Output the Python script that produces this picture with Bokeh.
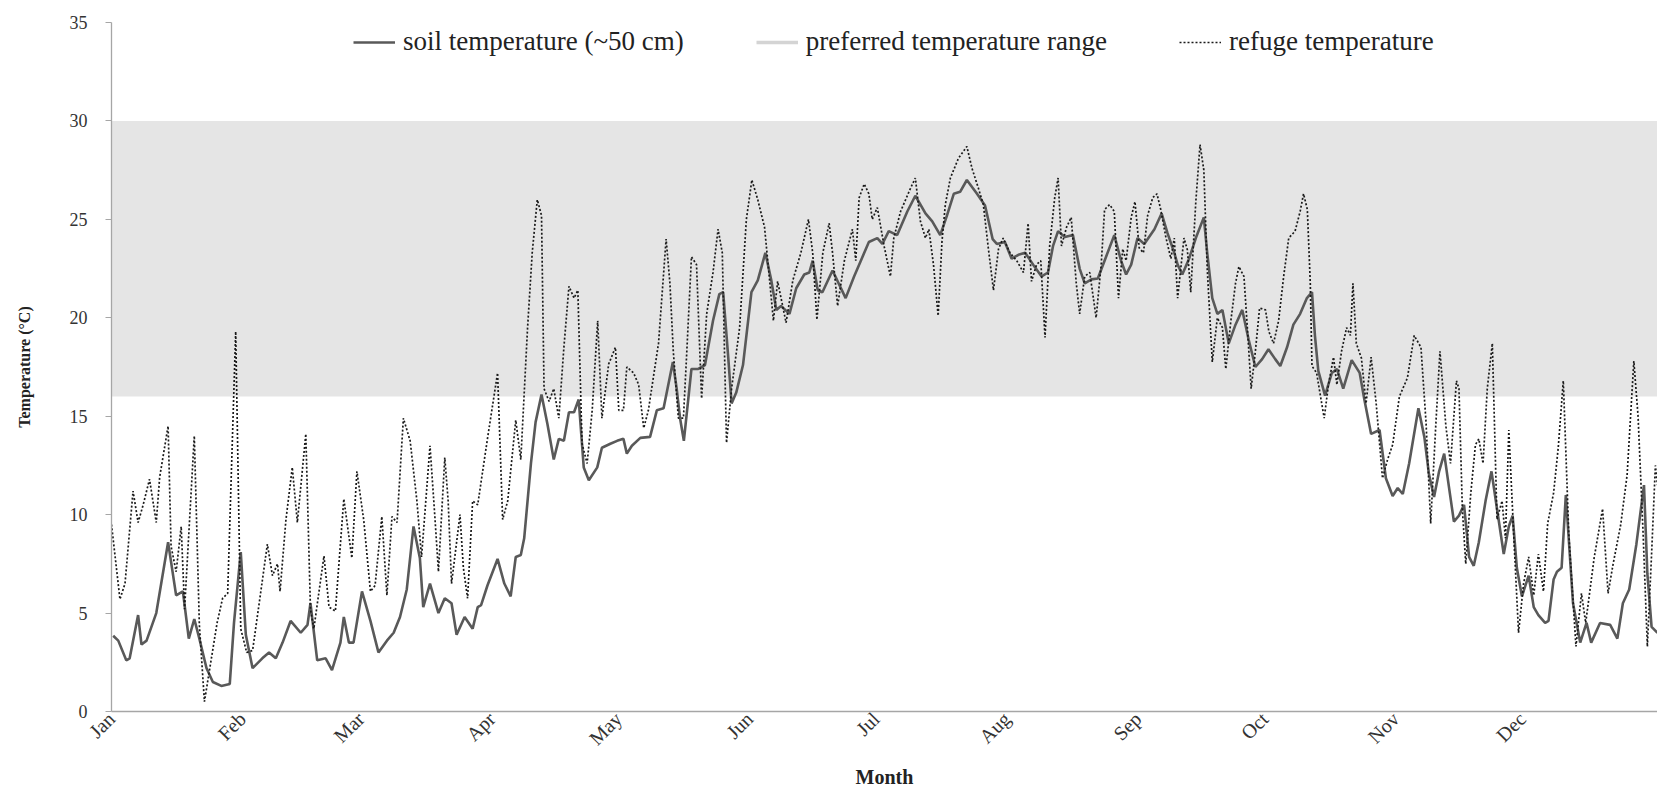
import math
from bokeh.plotting import figure
from bokeh.models import Range1d, FixedTicker, Legend, LegendItem
from bokeh.embed import file_html
from bokeh.resources import INLINE

# ---------------- data ----------------
month_names = ["Jan", "Feb", "Mar", "Apr", "May", "Jun", "Jul", "Aug", "Sep", "Oct", "Nov", "Dec"]
month_start_day = [0, 31, 59, 90, 120, 151, 181, 212, 243, 273, 304, 334]

preferred_low = 16
preferred_high = 30
band_days = [0, 368]

soil_day = [0.4, 1.6, 3.5, 4.3, 6.3, 7.1, 8.3, 10.6, 13.4, 15.3, 16.9, 18.3, 19.6, 20.8, 22.5, 24.0, 26.0, 28.0,
            29.0, 30.6, 31.8, 33.4, 35.7, 37.3, 38.9, 40.5, 42.4, 44.8, 46.4, 47.1, 48.7, 50.7, 52.2, 54.2, 55.0,
            56.2, 57.3, 59.3, 61.3, 63.2, 65.2, 66.8, 68.3, 69.9, 71.5, 73.0, 73.8, 75.4, 77.4, 78.9, 80.5, 81.7,
            83.6, 85.5, 86.7, 87.5, 89.0, 91.4, 93.0, 94.5, 95.7, 96.9, 97.7, 99.3, 100.4, 101.8, 103.2, 104.7,
            105.9, 107.1, 108.3, 109.5, 110.6, 111.8, 113.0, 115.0, 116.1, 118.1, 119.7, 121.2, 122.0, 123.2,
            125.2, 127.5, 129.1, 130.7, 132.9, 133.8, 134.6, 135.5, 137.3, 138.9, 140.5, 142.4, 143.9, 144.8,
            146.0, 146.8, 147.9, 149.5, 151.5, 153.0, 154.8, 156.2, 157.4, 158.5, 160.5, 162.1, 164.0, 165.2,
            166.0, 167.2, 168.3, 170.7, 173.8, 175.8, 177.4, 179.3, 181.3, 182.5, 184.0, 186.0, 188.4, 190.3,
            192.7, 194.3, 196.2, 197.8, 199.4, 200.9, 202.5, 204.9, 206.8, 208.6, 209.6, 211.5, 213.1, 214.7,
            216.3, 218.2, 220.2, 221.7, 222.9, 224.1, 225.7, 227.6, 229.2, 230.4, 232.0, 233.5, 235.1, 237.4,
            239.0, 240.2, 241.4, 242.9, 244.5, 246.9, 248.6, 250.0, 251.6, 252.4, 253.5, 255.1, 256.7, 258.6,
            259.4, 260.6, 261.8, 263.0, 264.5, 266.1, 267.7, 269.2, 270.8, 272.4, 273.9, 275.5, 276.7, 278.3,
            279.8, 281.4, 283.0, 284.2, 284.9, 285.7, 287.3, 288.9, 290.1, 291.6, 293.6, 295.5, 296.6, 298.2,
            300.2, 301.7, 303.3, 304.5, 305.7, 307.2, 309.4, 310.8, 311.9, 313.1, 314.3, 315.5, 316.6, 317.8,
            319.0, 320.2, 321.4, 322.5, 323.7, 325.3, 326.7, 328.0, 329.6, 330.8, 331.7, 332.7, 333.9, 335.5,
            336.7, 337.8, 339.4, 340.2, 341.4, 342.2, 343.3, 344.3, 346.0, 347.7, 349.2, 350.3, 352.4, 354.8,
            356.5, 357.8, 359.3, 361.0, 362.8, 363.6, 364.6, 366.0]
soil_temp = [3.85, 3.6, 2.6, 2.7, 4.9, 3.4, 3.6, 5.0, 8.6, 5.9, 6.1, 3.7, 4.7, 3.7, 2.2, 1.5, 1.3, 1.4,
             4.5, 8.1, 3.9, 2.2, 2.7, 3.0, 2.7, 3.5, 4.6, 4.0, 4.4, 5.5, 2.6, 2.7, 2.1, 3.5, 4.8,
             3.5, 3.5, 6.1, 4.6, 3.0, 3.6, 4.0, 4.8, 6.2, 9.4, 7.8, 5.3, 6.5, 5.0, 5.75, 5.5, 3.9,
             4.8, 4.2, 5.3, 5.4, 6.4, 7.75, 6.5, 5.85, 7.85, 7.95, 8.8, 12.6, 14.7, 16.1, 14.6, 12.8,
             13.85, 13.75, 15.2, 15.2, 15.85, 12.4, 11.75, 12.4, 13.4, 13.6, 13.75, 13.85, 13.1, 13.5,
             13.9, 13.95, 15.3, 15.4, 17.75, 16.4, 14.9, 13.75, 17.4, 17.4, 17.6, 19.85, 21.2, 21.3,
             18.0, 15.65, 16.2, 17.6, 21.3, 21.9, 23.3, 21.9, 20.4, 20.6, 20.2, 21.5, 22.2, 22.3,
             22.9, 21.4, 21.3, 22.4, 21.0, 22.1, 22.9, 23.85, 24.05, 23.75, 24.4, 24.2, 25.4, 26.2,
             25.3, 24.9, 24.2, 25.2, 26.3, 26.4, 27.0, 26.3, 25.7, 24.0, 23.75, 23.85, 23.0, 23.2,
             23.3, 22.7, 22.1, 22.3, 23.65, 24.4, 24.1, 24.2, 22.5, 21.75, 21.95, 22.0, 22.9, 24.2,
             22.9, 22.2, 22.7, 24.05, 23.75, 24.5, 25.3, 24.3, 23.3, 22.7, 22.2, 23.0, 24.05, 25.1,
             23.3, 21.0, 20.2, 20.4, 18.7, 19.65, 20.4, 18.9, 17.5, 17.9, 18.4, 17.9, 17.55, 18.5,
             19.65, 20.2, 21.0, 21.3, 19.1, 17.3, 16.05, 17.2, 17.4, 16.4, 17.85, 17.2, 15.85, 14.1,
             14.3, 11.85, 10.95, 11.35, 11.05, 12.6, 15.4, 13.95, 12.05, 10.9, 12.2, 13.1, 11.45, 9.65,
             9.95, 10.5, 7.85, 7.4, 8.6, 10.7, 12.2, 10.3, 8.0, 9.4, 9.95, 7.3, 5.85, 6.9,
             5.3, 4.9, 4.5, 4.6, 6.7, 7.1, 7.3, 11.0, 5.5, 3.5, 4.5, 3.5, 4.5, 4.4,
             3.7, 5.5, 6.2, 8.5, 11.5, 7.0, 4.3, 4.0]

refuge_day = [0.0, 2.0, 3.2, 5.1, 6.3, 7.5, 9.0, 10.6, 11.4, 13.4, 14.1, 15.3, 16.5, 17.3, 19.6, 20.8, 22.0,
              23.5, 25.0, 26.3, 27.5, 29.4, 30.6, 32.0, 33.4, 34.9, 36.9, 38.1, 39.3, 39.9, 41.3, 42.8, 44.0,
              46.0, 47.1, 47.9, 50.3, 51.5, 53.0, 55.0, 56.9, 58.1, 59.7, 61.3, 62.4, 64.0, 65.2, 66.4, 67.6,
              69.1, 70.7, 72.3, 73.4, 75.4, 76.6, 77.4, 78.9, 79.7, 80.5, 82.5, 83.3, 84.3, 85.5, 86.7, 89.0,
              91.4, 92.6, 93.8, 95.7, 96.9, 98.5, 99.6, 100.8, 101.8, 102.4, 103.6, 104.7, 105.9, 107.1, 108.3,
              109.5, 110.4, 111.4, 112.6, 113.8, 115.1, 116.1, 117.7, 119.3, 120.1, 121.2, 122.0, 123.6, 124.8,
              126.0, 127.1, 129.5, 131.3, 132.2, 133.0, 134.2, 135.4, 136.2, 137.3, 138.5, 139.7, 140.9, 142.4,
              143.6, 144.6, 145.6, 146.8, 148.7, 150.3, 151.6, 153.0, 154.6, 155.8, 156.7, 157.7, 159.7, 161.3,
              163.2, 165.0, 166.0, 167.0, 168.4, 169.9, 170.7, 171.9, 173.5, 175.4, 176.2, 177.0, 178.2, 179.3,
              180.1, 181.3, 182.9, 184.4, 185.2, 186.8, 189.2, 190.3, 191.5, 192.7, 193.5, 194.6, 195.7, 196.6,
              197.4, 198.6, 200.5, 202.5, 203.7, 205.2, 206.4, 207.6, 208.8, 210.0, 211.1, 212.7, 214.3, 215.9,
              217.0, 217.8, 219.0, 220.0, 221.0, 222.1, 223.3, 224.1, 224.9, 226.1, 227.2, 228.4, 229.2, 230.4,
              231.6, 233.1, 234.3, 235.1, 236.3, 237.4, 238.4, 239.4, 240.2, 241.4, 242.3, 243.3, 244.3, 245.3,
              246.5, 247.5, 248.4, 249.6, 250.8, 251.6, 252.4, 253.9, 254.7, 255.5, 256.7, 257.7, 258.6, 259.4,
              260.6, 261.8, 263.0, 263.8, 265.0, 266.1, 266.9, 268.1, 268.9, 269.8, 270.8, 271.8, 273.2, 274.0,
              275.1, 276.3, 277.5, 278.7, 280.2, 281.4, 282.2, 283.1, 283.8, 284.2, 285.3, 286.5, 287.1, 288.1,
              289.3, 290.1, 291.2, 292.4, 293.3, 293.9, 294.7, 295.9, 297.0, 298.2, 299.4, 300.9, 302.1, 303.3,
              304.9, 306.8, 308.4, 310.0, 311.2, 312.3, 313.5, 314.5, 315.9, 317.0, 318.4, 319.0, 319.8, 320.6,
              321.8, 322.9, 323.7, 324.7, 325.7, 326.9, 328.0, 329.2, 330.0, 330.8, 332.0, 333.1, 334.3, 335.5,
              336.7, 337.8, 339.0, 340.0, 341.4, 342.5, 343.7, 345.0, 346.7, 348.0, 349.0, 351.0, 353.0, 354.3,
              355.5, 357.3, 358.8, 360.4, 361.4, 362.6, 363.6, 364.6, 365.5, 366.0]
refuge_temp = [9.5, 5.7, 6.5, 11.2, 9.6, 10.5, 11.8, 9.6, 11.9, 14.5, 8.4, 7.1, 9.4, 5.2, 14.0, 4.4, 0.5,
               2.5, 4.5, 5.75, 6.0, 19.3, 4.2, 3.0, 3.1, 5.4, 8.5, 6.9, 7.5, 6.1, 9.75, 12.4, 9.6,
               14.1, 5.2, 4.2, 7.9, 5.3, 5.1, 10.8, 7.8, 12.2, 9.75, 6.1, 6.4, 9.9, 5.9, 9.9, 9.6,
               14.9, 13.75, 10.7, 7.85, 13.5, 9.75, 7.1, 12.9, 10.7, 6.5, 10.0, 7.3, 5.75, 10.7, 10.5, 13.85,
               17.2, 9.75, 10.7, 14.8, 12.8, 19.5, 23.3, 26.0, 25.2, 16.4, 15.75, 16.4, 14.9, 18.5, 21.6,
               21.0, 21.4, 13.6, 12.6, 15.3, 19.85, 14.9, 17.65, 18.5, 15.3, 15.3, 17.5, 17.2, 16.6,
               14.4, 15.3, 18.7, 24.0, 21.75, 18.3, 14.9, 14.9, 18.3, 23.1, 22.7, 15.9, 20.2, 22.3,
               24.5, 23.3, 13.65, 16.4, 19.5, 25.0, 27.0, 26.0, 24.6, 21.9, 19.85, 21.85, 19.75, 21.9,
               23.3, 25.0, 23.3, 19.9, 23.3, 24.8, 23.3, 20.6, 22.9, 24.5, 22.9, 26.1, 26.8, 26.3,
               25.0, 25.6, 23.65, 22.1, 24.05, 25.4, 26.6, 27.1, 24.9, 24.05, 24.5, 22.7, 20.1, 23.85,
               25.75, 27.1, 28.1, 28.7, 27.6, 26.6, 25.75, 23.5, 21.4, 23.5, 24.05, 23.3, 22.9, 22.3,
               24.8, 21.85, 22.7, 22.9, 19.0, 23.65, 26.1, 27.1, 23.65, 24.6, 25.1, 21.75, 20.2, 22.1,
               22.3, 20.0, 22.7, 25.5, 25.75, 25.4, 21.0, 23.5, 22.9, 25.1, 25.9, 23.55, 23.3, 25.2,
               26.1, 26.3, 25.5, 24.1, 23.0, 24.05, 21.0, 24.05, 23.45, 21.3, 25.9, 28.8, 27.5, 22.5,
               17.75, 20.0, 19.5, 17.4, 19.85, 21.75, 22.6, 22.1, 19.5, 16.4, 18.3, 20.5, 20.4, 19.3,
               18.7, 19.85, 22.1, 24.05, 24.4, 25.4, 26.3, 25.5, 21.75, 17.55, 17.2, 15.65, 14.9, 16.6,
               18.0, 16.6, 18.3, 19.5, 19.1, 21.75, 18.7, 17.95, 15.65, 18.0, 15.65, 11.85, 12.8, 13.55,
               16.0, 16.95, 19.1, 18.5, 14.7, 9.55, 14.5, 18.3, 14.5, 12.6, 16.8, 16.4, 10.3, 7.5,
               11.1, 13.55, 13.85, 12.6, 16.4, 18.7, 9.75, 10.7, 8.8, 14.3, 8.8, 4.0, 6.5, 7.85,
               5.9, 8.0, 6.1, 9.55, 11.1, 13.4, 16.8, 9.0, 3.3, 6.0, 4.5, 7.8, 10.3, 6.0,
               7.5, 9.5, 12.0, 17.8, 15.0, 9.0, 3.3, 8.0, 12.5, 11.5]

# ---------------- figure ----------------
SERIF = "Liberation Serif"

p = figure(width=1657, height=790, output_backend="svg", toolbar_location=None,
           x_range=Range1d(0, 366), y_range=Range1d(0, 35),
           min_border_left=111, min_border_right=0, min_border_top=22, min_border_bottom=79)
p.outline_line_color = None
p.xgrid.grid_line_color = None
p.ygrid.grid_line_color = None
p.background_fill_color = "white"

band = p.varea(x=band_days, y1=[preferred_low] * len(band_days), y2=[preferred_high] * len(band_days),
               fill_color="#e5e5e5", fill_alpha=1.0)

soil = p.line(soil_day, soil_temp, line_color="#595959", line_width=2.6)
refuge = p.line(refuge_day, refuge_temp, line_color="#1a1a1a", line_width=1.7, line_dash="2 2")

# legend-only glyph for the preferred range (no visible data points)
band_legend = p.line(x=band_days, y=[float("nan")] * len(band_days), line_color="#d4d4d4", line_width=3.5)

# axes
p.xaxis.ticker = FixedTicker(ticks=month_start_day)
p.xaxis.major_label_overrides = {d: m for d, m in zip(month_start_day, month_names)}
p.xaxis.major_label_orientation = math.pi / 4
p.yaxis.ticker = FixedTicker(ticks=[0, 5, 10, 15, 20, 25, 30, 35])

for ax in (p.xaxis[0], p.yaxis[0]):
    ax.axis_line_color = "#a6a6a6"
    ax.axis_line_width = 1.3
    ax.major_tick_line_color = "#a6a6a6"
    ax.minor_tick_line_color = None
    ax.major_label_text_font = SERIF
    ax.major_label_text_color = "#333333"
    ax.axis_label_text_font = SERIF
    ax.axis_label_text_font_style = "bold"
    ax.axis_label_text_color = "#222222"

p.xaxis.major_label_text_font_size = "20px"
p.yaxis.major_label_text_font_size = "18px"

p.xaxis.major_tick_out = 0
p.xaxis.major_tick_in = 0
p.xaxis.major_label_standoff = 4
p.xaxis.axis_label = "Month"
p.xaxis.axis_label_text_font_size = "20px"
p.xaxis.axis_label_standoff = 6
p.yaxis.major_tick_out = 6
p.yaxis.major_tick_in = 0
p.yaxis.major_label_standoff = 18
p.yaxis.axis_label = "Temperature (°C)"
p.yaxis.axis_label_text_font_size = "16px"
p.yaxis.axis_label_standoff = 34

legend = Legend(items=[
    LegendItem(label="soil temperature (~50 cm)", renderers=[soil]),
    LegendItem(label="preferred temperature range", renderers=[band_legend]),
    LegendItem(label="refuge temperature", renderers=[refuge]),
], orientation="horizontal", location=(242, 654))
legend.background_fill_alpha = 0
legend.border_line_color = None
legend.padding = 0
legend.margin = 0
legend.label_text_font = SERIF
legend.label_text_font_size = "27px"
legend.label_text_color = "#222222"
legend.glyph_width = 42
legend.label_standoff = 8
legend.spacing = 72
p.add_layout(legend)

open("out.html", "w").write(file_html(p, INLINE))
